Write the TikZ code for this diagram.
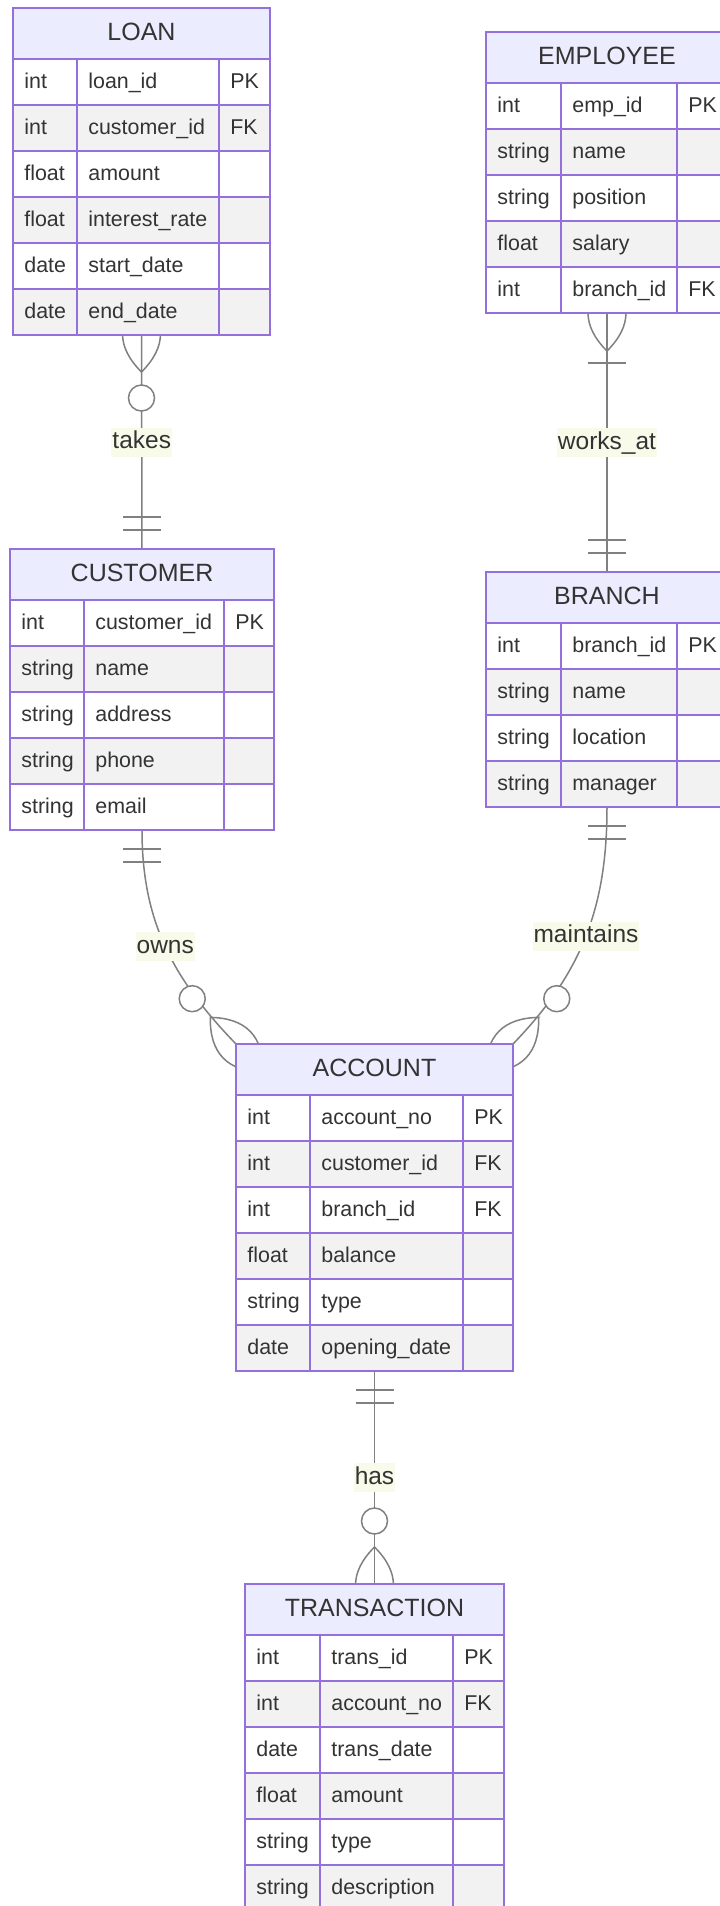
\documentclass[tikz,border=0pt]{standalone}
\usepackage{fontspec}
\setmainfont{Liberation Sans}
\usepackage{tikz}
\definecolor{entborder}{HTML}{9370DB}
\definecolor{headfill}{HTML}{ECECFF}
\definecolor{rowodd}{HTML}{FFFFFF}
\definecolor{roweven}{HTML}{F2F2F2}
\definecolor{enttext}{HTML}{333333}
\definecolor{relline}{HTML}{808080}
\definecolor{relbox}{HTML}{F8FBEA}
\pgfdeclarelayer{bg}
\pgfsetlayers{bg,main}

% #1 name, #2 left, #3 top, #4-#6 column widths, #7 title, #8 rows
\newcommand{\erentity}[8]{%
  \foreach \rowx [count=\i] in {#8} {\xdef\erows{\i}}
  \pgfmathsetmacro\ew{#4+#5+#6}
  \pgfmathsetmacro\eh{51+46*\erows}
  \node[entbox, minimum width=\ew*0.5pt, minimum height=\eh*0.5pt] (#1) at (#2,#3) {};
  \fill[headfill] (#2,#3) rectangle ++(\ew,51);
  \node[enttitle] (#1-title) at (#2+\ew/2,#3+32.5) {#7};
  \foreach \ty/\nm/\ky [count=\i] in {#8}{
    \pgfmathsetmacro\yy{#3+51+46*(\i-1)}
    \ifodd\i \def\rowcol{rowodd}\else \def\rowcol{roweven}\fi
    \fill[\rowcol] (#2,\yy) rectangle ++(\ew,46);
    \node[cell] (#1-\i-a) at (#2+11,\yy+29.5) {\ty};
    \node[cell] (#1-\i-b) at (#2+#4+11,\yy+29.5) {\nm};
    \node[cell] (#1-\i-c) at (#2+#4+#5+11,\yy+29.5) {\ky};
    \draw[entline] (#2,\yy) -- ++(\ew,0);
  }
  \draw[entline] (#2+#4,#3+51) -- ++(0,46*\erows);
  \draw[entline] (#2+#4+#5,#3+51) -- ++(0,46*\erows);
  \draw[entline] (#1.north west) rectangle (#1.south east);
}

\begin{document}
\begin{tikzpicture}[x=0.5pt, y=-0.5pt,
    entbox/.style={rectangle, inner sep=0pt, outer sep=0pt, anchor=north west},
    entline/.style={draw=entborder, line width=1pt},
    enttitle/.style={anchor=base, inner sep=0pt, text=enttext, font=\fontsize{12.5}{15}\selectfont},
    cell/.style={anchor=base west, inner sep=0pt, text=enttext, font=\fontsize{10.7}{13}\selectfont},
    rel/.style={draw=relline, line width=0.75pt},
    lbl/.style={fill=relbox, text=enttext, inner xsep=0.5pt, inner ysep=1.3pt,
      text height=9.2pt, text depth=2.7pt, font=\fontsize{12.25}{14}\selectfont},
    onlyone/.pic={\draw[rel] (19,-19) -- (19,19) (32,-19) -- (32,19);},
    zeromany/.pic={
      \draw[rel] (37,0) .. controls (11.7,25.3) and (-13.7,25.3) .. (-39,0)
        .. controls (-13.7,-25.3) and (11.7,-25.3) .. cycle;
      \draw[rel, fill=white] (63,0) circle[radius=6.5pt];},
    onemany/.pic={
      \draw[rel] (38,0) .. controls (12.7,25.3) and (-12.7,25.3) .. (-38,0)
        .. controls (-12.7,-25.3) and (12.7,-25.3) .. cycle;
      \draw[rel] (50,-19) -- (50,19);}
  ]
  \useasboundingbox (0,0) rectangle (719,1906);

  \erentity{loan}{13}{8}{64}{142}{51}{LOAN}{int/loan\_id/PK, int/customer\_id/FK,
    float/amount/{}, float/interest\_rate/{}, date/start\_date/{}, date/end\_date/{}}
  \erentity{employee}{486}{32}{75}{116}{51}{EMPLOYEE}{int/emp\_id/PK, string/name/{},
    string/position/{}, float/salary/{}, int/branch\_id/FK}
  \erentity{customer}{10}{549}{74}{140}{50}{CUSTOMER}{int/customer\_id/PK, string/name/{},
    string/address/{}, string/phone/{}, string/email/{}}
  \erentity{branch}{486}{572}{75}{116}{51}{BRANCH}{int/branch\_id/PK, string/name/{},
    string/location/{}, string/manager/{}}
  \erentity{account}{236}{1044}{74}{153}{50}{ACCOUNT}{int/account\_no/PK, int/customer\_id/FK,
    int/branch\_id/FK, float/balance/{}, string/type/{}, date/opening\_date/{}}
  \erentity{transaction}{245}{1584}{75}{133}{51}{TRANSACTION}{int/trans\_id/PK, int/account\_no/FK,
    date/trans\_date/{}, float/amount/{}, string/type/{}, string/description/{}}

  \begin{pgfonlayer}{bg}
    \fill[white] (0,0) rectangle (719,1906);
    % relationships
    \draw[rel] (loan.south) -- node[lbl] (takes) {takes} (customer.north);
    \draw[rel] (employee.south) -- node[lbl] (works) {works\_at} (branch.north);
    \draw[rel] (customer.south) to[out=-90, in=134] node[lbl] (owns) {owns} (account.north west);
    \draw[rel] (branch.south) to[out=-90, in=46] node[lbl] (maint) {maintains} (account.north east);
    \draw[rel] (account.south) -- node[lbl] (has) {has} (transaction.north);
    % cardinality ends
    \pic[rotate=-90] at (loan.south) {zeromany};
    \pic[rotate=90] at (customer.north) {onlyone};
    \pic[rotate=-90] at (employee.south) {onemany};
    \pic[rotate=90] at (branch.north) {onlyone};
    \pic[rotate=-90] at (customer.south) {onlyone};
    \pic[rotate=134] at (account.north west) {zeromany};
    \pic[rotate=-90] at (branch.south) {onlyone};
    \pic[rotate=46] at (account.north east) {zeromany};
    \pic[rotate=-90] at (account.south) {onlyone};
    \pic[rotate=90] at (transaction.north) {zeromany};
  \end{pgfonlayer}
\end{tikzpicture}
\end{document}
